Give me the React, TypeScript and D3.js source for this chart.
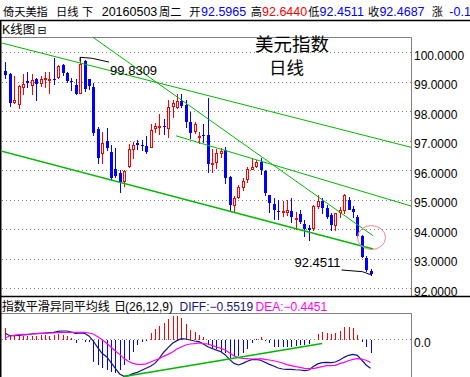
import React from "react";
import * as d3 from "d3";

// ---------- data ----------
const opens = [99.37,99.26,98.32,98.25,98.83,99.03,98.90,99.10,98.97,99.09,99.07,99.10,99.15,99.57,99.31,99.04,98.89,98.63,99.70,99.08,98.81,97.40,96.60,97.00,96.63,96.04,95.90,95.65,96.15,96.71,96.92,96.86,96.83,96.80,97.42,97.47,97.49,97.44,98.19,98.16,98.36,98.21,97.63,97.34,97.13,97.21,97.20,96.22,96.29,96.60,96.69,95.78,94.81,95.10,95.42,95.69,96.04,96.15,96.29,95.99,95.16,94.86,94.63,94.59,94.60,94.62,94.35,94.52,94.17,94.03,94.03,94.79,94.96,94.71,94.48,94.15,94.60,94.65,94.98,94.68,94.41,93.77,93.02,92.5965];
const highs = [99.68,99.31,99.21,98.89,99.26,99.34,99.26,99.14,99.21,99.34,99.34,99.82,99.57,99.60,99.34,99.14,99.10,99.8309,99.74,99.10,98.95,97.48,97.31,97.44,96.86,96.75,96.01,96.01,96.89,96.95,97.03,97.03,97.16,97.57,97.59,97.90,97.73,98.38,98.38,98.58,98.58,98.38,97.99,97.65,97.29,97.56,98.46,96.72,96.72,96.75,96.80,95.80,95.13,95.50,95.73,96.10,96.41,96.35,96.41,96.01,95.16,95.05,94.99,94.96,94.99,95.05,94.60,94.65,94.32,94.15,94.82,95.16,95.05,94.82,94.54,94.56,94.75,95.20,95.10,94.80,94.48,93.81,93.09,92.6440];
const lows = [99.12,98.19,98.27,98.10,98.59,98.83,98.59,98.38,98.87,98.83,98.63,98.93,99.12,99.23,99.00,98.72,98.58,98.61,98.70,98.75,97.20,96.26,96.24,96.69,95.70,95.78,95.25,95.48,96.12,96.41,96.72,96.69,96.58,96.78,97.31,97.23,97.23,97.14,97.82,98.12,98.16,97.48,97.08,97.25,96.92,96.97,95.95,95.95,96.09,96.46,95.56,94.65,94.62,95.05,95.33,95.61,96.04,96.12,95.87,95.16,94.60,94.34,94.34,94.45,94.48,94.26,94.01,94.20,93.78,93.64,93.98,94.71,94.54,94.37,93.98,93.98,94.43,94.54,94.77,94.40,93.75,93.05,92.59,92.4511];
const closes = [99.23,98.29,98.38,98.86,98.93,98.97,99.06,98.94,99.10,99.12,99.09,99.08,99.54,99.29,99.03,99.02,98.59,99.59,98.75,98.87,97.25,96.41,96.94,96.75,95.75,95.82,95.61,95.98,96.71,96.86,96.86,96.83,96.61,97.37,97.50,97.49,97.46,98.14,98.27,98.35,98.19,97.63,97.25,97.57,97.15,97.19,96.22,96.25,96.58,96.66,95.75,94.82,95.06,95.42,95.65,96.03,96.10,96.29,96.01,95.22,94.90,94.65,94.61,94.61,94.65,94.41,94.39,94.26,94.00,93.97,94.79,94.97,94.71,94.41,94.15,94.54,94.64,95.16,94.65,94.60,93.77,93.07,92.62,92.4687];

const macdHist = [0.20,0.075,0.063,0.05,0.05,0.05,0.063,0.063,0.075,0.075,0.063,0.075,0.094,0.082,0.063,0.013,-0.082,-0.01,-0.05,-0.05,-0.43,-0.49,-0.55,-0.58,-0.62,-0.65,-0.58,-0.49,-0.40,-0.24,-0.11,-0.063,-0.03,0.12,0.18,0.245,0.30,0.37,0.43,0.43,0.39,0.28,0.17,0.14,0.075,0.03,-0.11,-0.18,-0.18,-0.24,-0.27,-0.36,-0.33,-0.33,-0.27,-0.18,-0.08,-0.005,0.03,-0.03,-0.08,-0.145,-0.16,-0.16,-0.16,-0.145,-0.13,-0.11,-0.11,-0.095,-0.01,0.095,0.125,0.12,0.095,0.12,0.16,0.22,0.23,0.20,0.075,-0.05,-0.16,-0.27];
const diffVals = [0.107,0.063,0.063,0.069,0.075,0.082,0.094,0.10,0.107,0.113,0.12,0.126,0.145,0.151,0.151,0.132,0.107,0.113,0.107,0.057,-0.038,-0.164,-0.27,-0.333,-0.44,-0.553,-0.66,-0.704,-0.69,-0.654,-0.63,-0.59,-0.553,-0.516,-0.46,-0.365,-0.25,-0.164,-0.082,-0.031,0.006,0.0,-0.019,-0.038,-0.05,-0.094,-0.145,-0.18,-0.21,-0.24,-0.30,-0.39,-0.46,-0.49,-0.46,-0.42,-0.39,-0.384,-0.40,-0.44,-0.478,-0.51,-0.547,-0.566,-0.572,-0.572,-0.58,-0.585,-0.597,-0.585,-0.52,-0.47,-0.447,-0.44,-0.447,-0.434,-0.396,-0.346,-0.308,-0.29,-0.308,-0.396,-0.49,-0.5519];
const deaVals = [0.019,0.057,0.069,0.082,0.088,0.088,0.094,0.10,0.107,0.107,0.113,0.113,0.12,0.126,0.126,0.126,0.126,0.126,0.126,0.113,0.094,0.044,-0.013,-0.075,-0.15,-0.226,-0.29,-0.37,-0.42,-0.46,-0.478,-0.478,-0.47,-0.434,-0.40,-0.37,-0.327,-0.29,-0.245,-0.19,-0.15,-0.113,-0.094,-0.088,-0.075,-0.088,-0.094,-0.12,-0.15,-0.176,-0.208,-0.264,-0.32,-0.352,-0.365,-0.37,-0.377,-0.377,-0.37,-0.384,-0.396,-0.41,-0.43,-0.453,-0.484,-0.503,-0.522,-0.535,-0.553,-0.56,-0.56,-0.54,-0.522,-0.503,-0.503,-0.497,-0.465,-0.44,-0.41,-0.384,-0.37,-0.377,-0.40,-0.4451];

const priceTicks = [100, 99, 98, 97, 96, 95, 94, 93, 92];
const macdTicks = [0];

// trend lines as [index, price] endpoints
const trendStarts = [[-0.2, 100.33], [-0.2, 96.66], [21, 100.5], [39.8, 97.17]];
const trendEnds = [[93.2, 96.78], [84.6, 93.33], [84.6, 93.78], [93.2, 94.79]];
const macdTrendStart = [28, -0.707];
const macdTrendEnd = [73, -0.085];

const highIndex = 17; // 0-based
const lowIndex = 83;

const RED = "#ff0000";
const BLUE = "#0000ff";
const GREEN = "#00b800";
const NAVY = "#14147a";
const MAGENTA = "#ff00ff";
const GRID = "#808080";
const LATIN = "'Liberation Sans', 'Noto Sans CJK SC', sans-serif";
const CJK = "'Noto Sans CJK SC', 'Liberation Sans', sans-serif";

export default function App() {
  const W = 470, H = 377;
  const n = closes.length;
  const x = d3.scaleLinear().domain([1, n]).range([5.3, 370.5]);
  const y = d3.scaleLinear().domain([92, 100]).range([288.3, 52.3]);
  const ym = d3.scaleLinear().domain([0, 1]).range([339, 286]);
  const fmt4 = d3.format(".4f");
  const fmtM = d3.format(".1f");

  const cxOf = (i: number) => Math.round(x(i + 1)) + 0.5;

  const diffLine = d3.line<number>().x((_, i) => x(i + 1)).y((d) => ym(d));
  const deaLine = d3.line<number>().x((_, i) => x(i + 1)).y((d) => ym(d));

  const last = n - 1;
  const headerTokens: { t: string; x: number; c: string; cjk?: boolean }[] = [
    { t: "倚天美指", x: 3, c: "#000", cjk: true },
    { t: "日线", x: 56, c: "#000", cjk: true },
    { t: "下", x: 82, c: "#000", cjk: true },
    { t: "20160503", x: 101.7, c: "#000" },
    { t: "周二", x: 159, c: "#000", cjk: true },
    { t: "开", x: 189.3, c: "#000", cjk: true },
    { t: fmt4(opens[last]), x: 201, c: BLUE },
    { t: "高", x: 250.7, c: "#000", cjk: true },
    { t: fmt4(highs[last]), x: 262, c: RED },
    { t: "低", x: 308.3, c: "#000", cjk: true },
    { t: fmt4(lows[last]), x: 319.6, c: BLUE },
    { t: "收", x: 368, c: "#000", cjk: true },
    { t: fmt4(closes[last]), x: 379.4, c: BLUE },
    { t: "涨", x: 431.7, c: "#000", cjk: true },
    { t: "-0.1", x: 449.3, c: BLUE },
  ];

  const hx = x(highIndex + 1), hy = y(highs[highIndex]);
  const lx = x(lowIndex + 1), ly = y(lows[lowIndex]);

  return (
    <svg width={W} height={H} style={{ position: "absolute", left: 0, top: 0, background: "#fff" }}
      xmlns="http://www.w3.org/2000/svg">
      <defs>
        <clipPath id="mainClip"><rect x={1.5} y={37.5} width={410} height={258.5} /></clipPath>
        <clipPath id="macdClip"><rect x={1.5} y={313.5} width={410} height={64} /></clipPath>
      </defs>
      <rect x={0} y={0} width={W} height={H} fill="#fff" />

      {/* header */}
      <g fontFamily={LATIN}>
        {headerTokens.map((tk, i) => (
          <text key={i} x={tk.x} y={16} fill={tk.c} fontSize={tk.cjk ? 11.2 : 12.5}
            fontFamily={tk.cjk ? CJK : LATIN}>{tk.t}</text>
        ))}
      </g>
      <line x1={0} x2={W} y1={20.5} y2={20.5} stroke="#000" strokeWidth={1.5} />
      <text x={2} y={34} fontFamily={LATIN} fontSize={12.5} fill="#000">K线图</text>
      <text x={37.5} y={34} fontFamily="'DejaVu Sans'" fontSize={11} fill="#000">⊟</text>

      {/* frames */}
      <line x1={0} x2={411.5} y1={37.5} y2={37.5} stroke={GRID} />
      <line x1={411.5} x2={411.5} y1={37.5} y2={296} stroke={GRID} />
      <line x1={0} x2={W} y1={296.5} y2={296.5} stroke="#000" strokeWidth={1.5} />
      <line x1={0} x2={411.5} y1={313.5} y2={313.5} stroke={GRID} />
      <line x1={411.5} x2={411.5} y1={313.5} y2={H} stroke={GRID} />
      <line x1={0.75} x2={0.75} y1={20} y2={H} stroke="#000" strokeWidth={1.5} />

      {/* price grid */}
      {priceTicks.map((t) => (
        <line key={"g" + t} x1={2} x2={411} y1={Math.round(y(t)) + 0.5} y2={Math.round(y(t)) + 0.5}
          stroke={GRID} strokeDasharray="1 3" />
      ))}
      {/* price labels */}
      <g fontFamily={LATIN} fontSize={12} fill="#000">
        {priceTicks.map((t) => (
          <text key={"l" + t} x={414} y={y(t) + 7.5}>{fmt4(t)}</text>
        ))}
      </g>

      {/* title */}
      <text x={255} y={51} fontFamily={CJK} fontSize={18.5} fill="#000">美元指数</text>
      <text x={269} y={74} fontFamily={CJK} fontSize={17.5} fill="#000">日线</text>

      {/* candles */}
      <g clipPath="url(#mainClip)" shapeRendering="crispEdges">
        {closes.map((c, i) => {
          const o = opens[i];
          const cx = cxOf(i);
          const up = c > o;
          const top = Math.round(y(Math.max(o, c)));
          const bot = Math.round(y(Math.min(o, c)));
          const hh = Math.round(y(highs[i]));
          const ll = Math.round(y(lows[i]));
          const col = up ? RED : BLUE;
          const bh = bot - top;
          return (
            <g key={"c" + i}>
              <line x1={cx} x2={cx} y1={hh} y2={ll + 1} stroke={col} />
              {up ? (
                bh >= 1 ? (
                  <rect x={cx - 1} y={top + 0.5} width={2} height={bh} fill="#fff" stroke={col} />
                ) : (
                  <line x1={cx - 1.5} x2={cx + 1.5} y1={top + 0.5} y2={top + 0.5} stroke={col} />
                )
              ) : (
                <rect x={cx - 1.5} y={top} width={3} height={Math.max(1, bh)} fill={col} />
              )}
            </g>
          );
        })}
      </g>

      {/* trend lines */}
      <g clipPath="url(#mainClip)">
        {trendStarts.map((s, k) => (
          <line key={"t" + k} x1={x(s[0])} y1={y(s[1])} x2={x(trendEnds[k][0])} y2={y(trendEnds[k][1])}
            stroke={GREEN} strokeWidth={k === 1 ? 1.5 : 1} />
        ))}
        <ellipse cx={x(lowIndex + 1) + 1} cy={y(93.72)} rx={14} ry={12} fill="none" stroke="#f08a8a" strokeWidth={1} />
      </g>

      {/* high / low markers */}
      <g stroke="#000" fill="none" strokeWidth={1}>
        <path d={`M${hx},${hy + 4}L${hx},${hy}L${hx + 12},${hy + 1}L${hx + 29},${hy + 4.8}`} />
        <path d={`M${lx + 1},${ly}L${lx - 8},${ly - 3.3}L${lx - 29},${ly - 5}`} />
      </g>
      <text x={hx + 30} y={hy + 17.5} fontFamily={LATIN} fontSize={13} fill="#000">{fmt4(highs[highIndex])}</text>
      <text x={lx - 76} y={ly - 7.5} fontFamily={LATIN} fontSize={13} fill="#000">{fmt4(lows[lowIndex])}</text>

      {/* MACD title */}
      <g fontSize={12} fontFamily={LATIN}>
        <text x={1.7} y={311} fill="#000" fontFamily={CJK}>指数平滑异同平均线</text>
        <text x={114} y={311} fill="#000" fontFamily={CJK}>日</text>
        <text x={125} y={311} fill="#000">(26,12,9)</text>
        <text x={179.5} y={311} fill={NAVY}>{"DIFF:" + fmt4(diffVals[last])}</text>
        <text x={255.5} y={311} fill={MAGENTA}>{"DEA:" + fmt4(deaVals[last])}</text>
      </g>

      {/* MACD zero grid + label */}
      {macdTicks.map((t) => (
        <g key={"m" + t}>
          <line x1={2} x2={411} y1={Math.round(ym(t)) + 0.5} y2={Math.round(ym(t)) + 0.5} stroke={GRID} strokeDasharray="1 3" />
          <text x={414} y={ym(t) + 8} fontFamily={LATIN} fontSize={12} fill="#000">{fmtM(t)}</text>
        </g>
      ))}

      {/* MACD bars and lines */}
      <g clipPath="url(#macdClip)">
        <g shapeRendering="crispEdges">
          {macdHist.map((v, i) => (
            <line key={"h" + i} x1={cxOf(i)} x2={cxOf(i)} y1={Math.round(ym(0)) + 0.5} y2={ym(v)}
              stroke={v >= 0 ? RED : BLUE} strokeWidth={1} />
          ))}
        </g>
        <path d={diffLine(diffVals) || ""} fill="none" stroke={NAVY} strokeWidth={1.2} />
        <path d={deaLine(deaVals) || ""} fill="none" stroke={MAGENTA} strokeWidth={1.2} />
        <line x1={x(macdTrendStart[0])} y1={ym(macdTrendStart[1])} x2={x(macdTrendEnd[0])} y2={ym(macdTrendEnd[1])}
          stroke={GREEN} strokeWidth={1.6} />
      </g>
    </svg>
  );
}
